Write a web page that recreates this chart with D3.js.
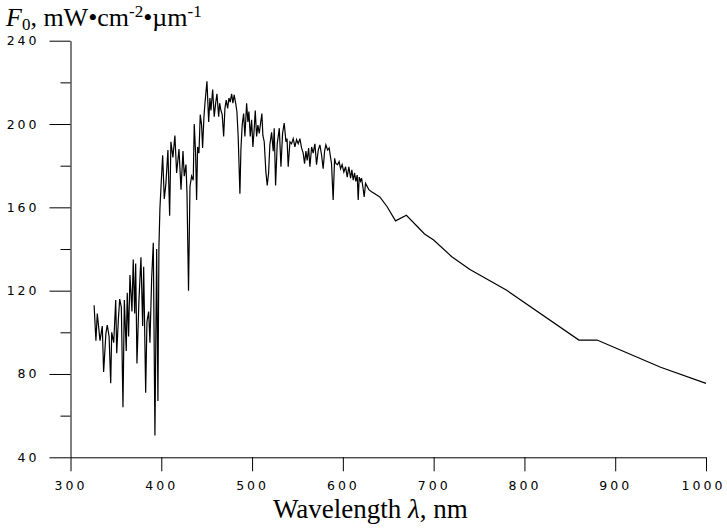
<!DOCTYPE html>
<html>
<head>
<meta charset="utf-8">
<script src="https://cdn.jsdelivr.net/npm/d3@7"></script>
<style>
  body { margin: 0; background: #fff; }
  svg { display: block; }
</style>
</head>
<body>
<div id="vis"></div>
<script>
// Constants for the frame dimensions
const FRAME_WIDTH = 727;
const FRAME_HEIGHT = 528;
const PLOT = {left: 70.5, right: 706, top: 40.7, bottom: 457.3};

// Wavelength (nm) and solar irradiance F0 values
const WAVELENGTHS = [
  326, 328, 329.5, 332.5, 335, 336.5, 339, 340.5, 342.5, 344.3, 345.4, 347.6, 349.8, 350.9,
  352.7, 354.2, 356, 357.8, 359.3, 361.4, 362.5, 364, 365.5, 367.7, 369.1, 370.7, 371.8,
  373.2, 375.4, 377.6, 379.5, 380.6, 382.8, 384.2, 386.1, 387.5, 389.4, 391.2, 393, 394.9,
  396.3, 397.4, 398.5, 399.6, 401.5, 403.3, 405.1, 407.3, 409.2, 410.6, 412.8, 415, 416.9,
  419.5, 421.7, 423.9, 425.3, 427.2, 428.3, 430, 431.6, 433.4, 435.2, 436.3, 437.8, 438.9,
  440, 441.5, 442.9, 444.4, 445.5, 447, 448.1, 450.3, 452.2, 453.6, 454.7, 456.6, 458.3,
  459.9, 461.3, 463.2, 464.3, 465.7, 467.1, 468.7, 470.1, 471.5, 473.1, 474.5, 475.9,
  477.5, 478.9, 480.3, 481.9, 483.3, 484.7, 486.6, 487.7, 489.1, 490.7, 492.1, 494, 495.4,
  496.5, 498, 499.5, 500.9, 502.4, 503.5, 505, 506.4, 507.9, 509.4, 510.8, 511.9, 513.4,
  515.2, 516.7, 518.2, 519.6, 521.5, 523.3, 524.4, 525.9, 527.7, 530, 531.8, 533.6, 535.4,
  537.3, 538.5, 539.8, 541.7, 543.5, 545.3, 547.2, 549, 550.8, 552.7, 554.5, 556.3, 557.8,
  559.3, 560.7, 562.3, 563.7, 565.6, 567.3, 569.2, 571, 572.9, 574.7, 576.6, 578.3, 579.9,
  581.3, 583.2, 584.9, 587.5, 589.3, 590.9, 592.3, 594.2, 595.9, 597.5, 599.2, 601.1, 603,
  604.8, 606.6, 608.5, 609.9, 611.4, 612.9, 614.3, 615.8, 616.9, 618, 619.5, 620.6, 622,
  623.5, 625, 628.6, 631.6, 635.2, 640.7, 648.8, 658, 670, 690, 700, 720, 740, 780, 860,
  880, 905, 950, 1000
];
const IRRADIANCE = [
  113, 96, 109, 96, 103, 81, 99.5, 103.5, 98, 75.5, 100, 95, 115.5, 90,
  106, 116, 112, 64, 115.5, 91, 119, 98, 127.5, 110, 135, 109, 133,
  85, 115.5, 136, 103, 131.5, 71, 105, 110, 95, 126, 143, 50.5, 140,
  67, 141, 159.5, 169, 185, 164, 171.5, 187.5, 156, 191.5, 184, 194.5, 176.5,
  188, 168.5, 187, 175, 180.5, 167, 120, 170, 175, 173, 200, 186, 163.5,
  189, 186, 204.5, 199.5, 188.5, 203.5, 210, 220.5, 201, 212.5, 206.5, 216.5, 203.5,
  210, 214.5, 203.5, 210, 206.5, 204.5, 194, 207.5, 211.5, 207.5, 212.5, 210.5,
  214.5, 210, 214, 210, 206, 194, 166.5, 187.5, 199.5, 205, 194, 210, 201,
  206, 194, 202, 189, 198, 206.5, 194, 199.5, 195.5, 200.5, 205, 194.5, 191.5,
  177, 170.5, 176.5, 190, 196, 187, 198, 170.5, 190.5, 198, 179.5, 195.5, 200.5,
  191.5, 193, 179.5, 191.5, 190.5, 193, 189, 192.5, 190.5, 193, 188.5, 186, 181,
  187, 182.5, 188.5, 179.5, 189, 186, 190.5, 180.5, 187.5, 190, 185, 178.5, 187,
  190, 187.5, 188.5, 181, 163.5, 183.5, 181, 180.5, 182, 178.5, 180.5, 177, 179.5,
  174.5, 179.5, 174, 178, 173, 176.5, 172.5, 175.5, 163.5, 174.5, 172.5, 174, 170,
  165, 171.5, 168.5, 167.5, 166.5, 165, 160.3, 153.5, 156.2, 147.2, 144.3, 136.3, 130.2, 120.3, 96.3,
  96.3, 91.6, 83.2, 75.5
];

// Tick values for both axes
const X_TICKS = [300, 400, 500, 600, 700, 800, 900, 1000];
const Y_TICKS = [40, 80, 120, 160, 200, 240];
const Y_MINOR_TICKS = [60, 100, 140, 180, 220];

const TICK_FONT = "DejaVu Sans";
const TICK_SPACING = 3;

const FRAME = d3.select("#vis")
                .append("svg")
                  .attr("width", FRAME_WIDTH)
                  .attr("height", FRAME_HEIGHT);

// Scales map data values to pixel positions
const X_SCALE = d3.scaleLinear()
                  .domain([300, 1000])
                  .range([PLOT.left, PLOT.right]);

const Y_SCALE = d3.scaleLinear()
                  .domain([40, 240])
                  .range([PLOT.bottom, PLOT.top]);

// x axis
const xAxis = FRAME.append("g")
      .attr("transform", "translate(0," + PLOT.bottom + ")")
      .call(d3.axisBottom(X_SCALE)
              .tickValues(X_TICKS)
              .tickFormat(d3.format("d"))
              .tickSize(14)
              .tickSizeOuter(0)
              .tickPadding(10));

// y axis, major ticks with labels
const yAxis = FRAME.append("g")
      .attr("transform", "translate(" + PLOT.left + ",0)")
      .call(d3.axisLeft(Y_SCALE)
              .tickValues(Y_TICKS)
              .tickFormat(d3.format("d"))
              .tickSize(21)
              .tickSizeOuter(0)
              .tickPadding(13));

// y axis, minor ticks only
FRAME.append("g")
      .attr("transform", "translate(" + PLOT.left + ",0)")
      .call(d3.axisLeft(Y_SCALE)
              .tickValues(Y_MINOR_TICKS)
              .tickSize(10)
              .tickSizeOuter(0)
              .tickFormat(""))
      .select(".domain").remove();

// style both axes the same way
FRAME.selectAll(".domain, .tick line")
      .attr("stroke", "#000")
      .attr("stroke-width", 1);

FRAME.selectAll(".tick text")
      .attr("font-family", TICK_FONT)
      .attr("font-size", "12.5px")
      .attr("fill", "#000")
      .attr("letter-spacing", TICK_SPACING + "px");

// letter-spacing leaves a trailing gap; the last x label is pulled in to stay on the page
xAxis.selectAll(".tick text").attr("dx", (d) => d === 1000 ? -3 : 0);
yAxis.selectAll(".tick text").attr("dx", TICK_SPACING);

// the spectrum line
const line = d3.line()
               .x((d, i) => X_SCALE(WAVELENGTHS[i]))
               .y((d) => Y_SCALE(d));

FRAME.append("path")
      .datum(IRRADIANCE)
      .attr("d", line)
      .attr("fill", "none")
      .attr("stroke", "#000")
      .attr("stroke-width", 1.2)
      .attr("stroke-linejoin", "miter");

// y axis title  F0, mW•cm-2•µm-1
const title = FRAME.append("text")
      .attr("x", 6)
      .attr("y", 26)
      .attr("font-family", "Liberation Serif")
      .attr("font-size", "26px")
      .attr("fill", "#000");
title.append("tspan").attr("font-style", "italic").text("F");
title.append("tspan").attr("font-size", "17px").attr("dy", 4).text("0");
title.append("tspan").attr("dy", -4).text(", mW\u2022cm");
title.append("tspan").attr("font-size", "17px").attr("dy", -9).text("-2");
title.append("tspan").attr("dy", 9).text("\u2022\u00b5m");
title.append("tspan").attr("font-size", "17px").attr("dy", -9).text("-1");

// x axis title
const xTitle = FRAME.append("text")
      .attr("x", 273)
      .attr("y", 518)
      .attr("font-family", "Liberation Serif")
      .attr("font-size", "27px")
      .attr("fill", "#000");
xTitle.append("tspan").text("Wavelength ");
xTitle.append("tspan").attr("font-style", "italic").text("\u03bb");
xTitle.append("tspan").text(", nm");
</script>
</body>
</html>
